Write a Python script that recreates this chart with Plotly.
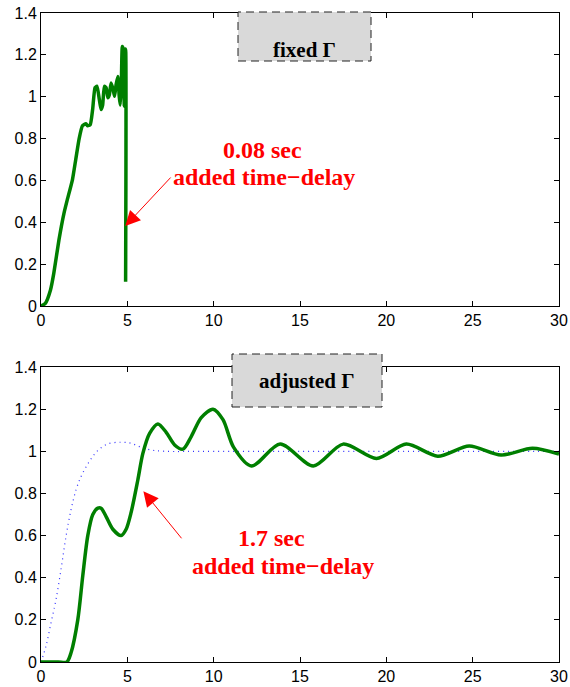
import plotly.graph_objects as go

# ---- data: top panel (fixed Gamma) ----
top_t = [0, 0.25, 0.55, 0.74, 1.04, 1.33, 1.52, 1.82, 2.01, 2.21, 2.4, 2.6, 2.7, 2.85,
         2.99, 3.13, 3.24, 3.38, 3.48, 3.57, 3.67, 3.77, 3.87, 3.96, 4.06, 4.18, 4.26,
         4.35, 4.45, 4.53, 4.59, 4.65, 4.71, 4.77, 4.82, 4.86, 4.9, 4.9]
top_y = [0, 0.013, 0.077, 0.156, 0.316, 0.443, 0.507, 0.603, 0.699, 0.80, 0.861, 0.871,
         0.861, 0.866, 0.939, 1.043, 1.05, 0.986, 0.939, 0.96, 1.05, 1.043, 0.995, 1.01,
         1.066, 1.034, 1.002, 1.058, 1.097, 1.002, 0.96, 1.05, 1.24, 1.225, 0.955, 1.21,
         1.228, 0.116]

# ---- data: bottom panel (adjusted Gamma) ----
bot_t = [0, 1.0, 1.5, 1.74, 2.13, 2.42, 2.71, 3.0, 3.29, 3.48, 3.77, 4.16, 4.64, 4.93,
         5.22, 5.61, 5.9, 6.29, 6.77, 7.25, 7.74, 8.22, 8.7, 9.28, 9.96, 10.54, 11.15,
         12.2, 13.85, 15.77, 17.5, 19.43, 21.16, 22.98, 24.8, 26.64, 28.46, 30]
bot_y = [0, 0, 0, 0.044, 0.20, 0.41, 0.60, 0.70, 0.73, 0.73, 0.69, 0.63, 0.60, 0.63,
         0.71, 0.865, 0.99, 1.085, 1.13, 1.09, 1.03, 1.01, 1.07, 1.16, 1.20, 1.15, 1.02,
         0.93, 1.034, 0.93, 1.034, 0.966, 1.034, 0.977, 1.025, 0.982, 1.014, 0.987]

ref_t = [0, 0.29, 0.58, 0.87, 1.16, 1.45, 1.74, 2.03, 2.32, 2.71, 3.09, 3.38, 3.87,
         4.64, 5.22, 5.8, 6.38, 7.16, 10, 20, 30]
ref_y = [0, 0.076, 0.186, 0.297, 0.44, 0.597, 0.723, 0.817, 0.88, 0.94, 0.985, 1.01,
         1.035, 1.043, 1.038, 1.019, 1.006, 1.0, 1.0, 1.0, 1.0]

x_ticks = [0, 5, 10, 15, 20, 25, 30]
y_ticks = [0, 0.2, 0.4, 0.6, 0.8, 1.0, 1.2, 1.4]

GREEN = "#007f00"
RED = "#ff0000"

fig = go.Figure()
fig.add_trace(go.Scatter(x=top_t, y=top_y, mode="lines",
                         line=dict(color=GREEN, width=3.5, shape="spline", smoothing=0.5),
                         xaxis="x", yaxis="y"))
fig.add_trace(go.Scatter(x=ref_t, y=ref_y, mode="lines",
                         line=dict(color="#3030ff", width=1.2, dash="1px,4px", shape="spline"),
                         xaxis="x2", yaxis="y2"))
fig.add_trace(go.Scatter(x=bot_t, y=bot_y, mode="lines",
                         line=dict(color=GREEN, width=3.5, shape="spline", smoothing=0.8),
                         xaxis="x2", yaxis="y2"))

ax_common = dict(showgrid=False, zeroline=False, showline=True, linecolor="black",
                 linewidth=1, mirror="ticks", ticks="inside", ticklen=5, automargin=False,
                 tickcolor="black", tickfont=dict(family="Liberation Sans", size=16, color="black"))

top_dom = [356 / 649, 1.0]
bot_dom = [0.0, 295 / 649]

fig.update_layout(
    width=570, height=687,
    margin=dict(l=41, r=11, t=13, b=25),
    paper_bgcolor="white", plot_bgcolor="white",
    showlegend=False,
    xaxis=dict(domain=[0, 1], range=[0, 30], tickvals=x_ticks, anchor="y", **ax_common),
    yaxis=dict(domain=top_dom, range=[0, 1.4], tickvals=y_ticks, anchor="x", **ax_common),
    xaxis2=dict(domain=[0, 1], range=[0, 30], tickvals=x_ticks, anchor="y2", **ax_common),
    yaxis2=dict(domain=bot_dom, range=[0, 1.4], tickvals=y_ticks, anchor="x2", **ax_common),
)

def px_to_paper(px, py):
    return ((px - 41) / 518.0, (662 - py) / 649.0)

# labelled boxes with dashed border
boxes = [((238, 12), (371, 61), "fixed Γ"), ((232, 354), (382, 407), "adjusted Γ")]
for (x0p, y0p), (x1p, y1p), txt in boxes:
    ax0, ay0 = px_to_paper(x0p, y1p)
    ax1, ay1 = px_to_paper(x1p, y0p)
    fig.add_shape(type="rect", xref="paper", yref="paper", x0=ax0, x1=ax1, y0=ay0, y1=ay1,
                  fillcolor="#d9d9d9", line=dict(color="#222222", width=1, dash="8px,5px"),
                  layer="above")
    fig.add_annotation(xref="paper", yref="paper", x=(ax0 + ax1) / 2, y=(ay0 + ay1) / 2,
                       text="<b>" + txt + "</b>", showarrow=False,
                       font=dict(family="Liberation Serif", size=21, color="black"))

# arrows
fig.add_annotation(xref="x", yref="y", x=4.88, y=0.382, ax=7.59, ay=0.621,
                   axref="x", ayref="y", text="", showarrow=True, arrowhead=2,
                   arrowsize=3, arrowwidth=1, arrowcolor=RED)
fig.add_annotation(xref="x2", yref="y2", x=5.93, y=0.81, ax=8.21, ay=0.58,
                   axref="x2", ayref="y2", text="", showarrow=True, arrowhead=2,
                   arrowsize=3, arrowwidth=1, arrowcolor=RED)

red_font = dict(family="Liberation Serif", size=24, color=RED)
labels = [("x", "y", 262, 135, "0.08 sec"), ("x", "y", 264, 162, "added time−delay"),
          ("x2", "y2", 271, 553, "1.7 sec"), ("x2", "y2", 283, 581, "added time−delay")]
for xr, yr, px, py, txt in labels:
    xp, yp = px_to_paper(px, py)
    fig.add_annotation(xref="paper", yref="paper", x=xp, y=yp, text="<b>" + txt + "</b>",
                       showarrow=False, font=red_font)

fig.write_html("out.html")
